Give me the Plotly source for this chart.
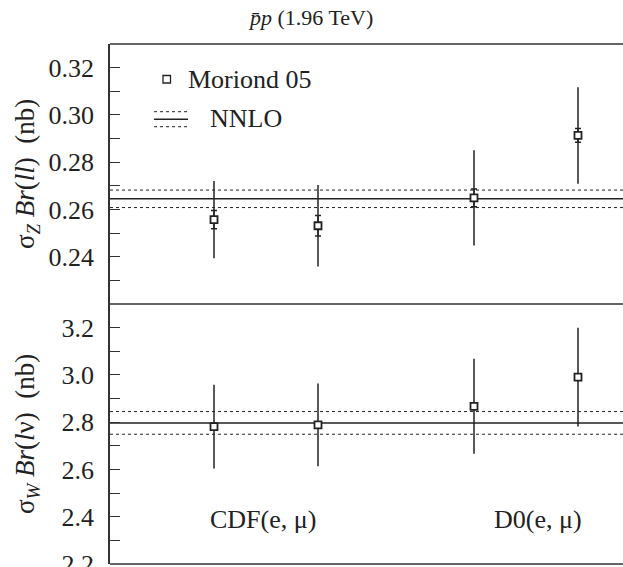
import plotly.graph_objects as go
from plotly.subplots import make_subplots

# ---- data ----
x_pos = [1.0, 2.0, 3.5, 4.5]
group_labels = ["CDF(e, μ)", "D0(e, μ)"]
group_label_x = [1.47, 4.12]

z_val = [0.2557, 0.2531, 0.2649, 0.2913]
z_stat = [0.0039, 0.0043, 0.0038, 0.0029]
z_tot = [0.0163, 0.0172, 0.0202, 0.0204]

w_val = [2.781, 2.789, 2.867, 2.991]
w_tot = [0.177, 0.175, 0.201, 0.209]

nnlo_z = 0.2645
nnlo_z_err = 0.0037
nnlo_w = 2.797
nnlo_w_err = 0.048

z_ticks = [0.24, 0.26, 0.28, 0.30, 0.32]
w_ticks = [2.2, 2.4, 2.6, 2.8, 3.0, 3.2]

FONT = "Liberation Serif, Times New Roman, serif"
INK = "#222222"

W, H = 623, 567
# plot area in page coords: left 110, top 44, bottom 564
L = 110
T = 44
B = H - 564
R = 0
PW = W - L - R
PH = H - T - B


def px(xp):
    return (xp - L) / PW


def py(yp):
    return (H - B - yp) / PH


fig = make_subplots(rows=2, cols=1, shared_xaxes=True, vertical_spacing=0)

# total errors (no caps)
fig.add_trace(go.Scatter(x=x_pos, y=z_val, mode="markers",
                         marker=dict(size=0.1, color=INK),
                         error_y=dict(type="data", array=z_tot, width=0, thickness=1.5, color=INK),
                         showlegend=False, hoverinfo="skip"), row=1, col=1)
# stat errors (small caps)
fig.add_trace(go.Scatter(x=x_pos, y=z_val, mode="markers",
                         marker=dict(symbol="square", size=7, color="white",
                                     line=dict(color=INK, width=1.8)),
                         error_y=dict(type="data", array=z_stat, width=3, thickness=1.5, color=INK),
                         showlegend=False), row=1, col=1)

fig.add_trace(go.Scatter(x=x_pos, y=w_val, mode="markers",
                         marker=dict(symbol="square", size=7, color="white",
                                     line=dict(color=INK, width=1.8)),
                         error_y=dict(type="data", array=w_tot, width=0, thickness=1.5, color=INK),
                         showlegend=False), row=2, col=1)

# NNLO lines
for yref, c, e in [("y", nnlo_z, nnlo_z_err), ("y2", nnlo_w, nnlo_w_err)]:
    fig.add_shape(type="line", xref="paper", yref=yref, x0=0, x1=1, y0=c, y1=c,
                  line=dict(color=INK, width=1.5), layer="below")
    for v in (c - e, c + e):
        fig.add_shape(type="line", xref="paper", yref=yref, x0=0, x1=1, y0=v, y1=v,
                      line=dict(color=INK, width=1, dash="dot"), layer="below")

# frame lines
for yy in (0, 0.5, 1):
    fig.add_shape(type="line", xref="paper", yref="paper", x0=0, x1=1, y0=yy, y1=yy,
                  line=dict(color="#333333", width=1.5))

# legend (manual)
fig.add_shape(type="rect", xref="paper", yref="paper",
              x0=px(163), x1=px(170.5), y0=py(83), y1=py(75.5),
              line=dict(color=INK, width=1.3), fillcolor="white")
fig.add_annotation(x=px(186), y=py(79), xref="paper", yref="paper", text="Moriond 05",
                   showarrow=False, xanchor="left", yanchor="middle",
                   font=dict(family=FONT, size=26, color=INK))
fig.add_shape(type="line", xref="paper", yref="paper", x0=px(154), x1=px(188),
              y0=py(119.3), y1=py(119.3), line=dict(color=INK, width=1.5))
for yy in (111.7, 126.7):
    fig.add_shape(type="line", xref="paper", yref="paper", x0=px(154), x1=px(188),
                  y0=py(yy), y1=py(yy), line=dict(color=INK, width=1, dash="dot"))
fig.add_annotation(x=px(208), y=py(118), xref="paper", yref="paper", text="NNLO",
                   showarrow=False, xanchor="left", yanchor="middle",
                   font=dict(family=FONT, size=26, color=INK))

# group labels
for lab, gx in zip(group_labels, group_label_x):
    fig.add_annotation(x=gx, y=2.39, xref="x2", yref="y2", text=lab, showarrow=False,
                       xanchor="center", yanchor="middle",
                       font=dict(family=FONT, size=26, color=INK))

# title
fig.add_annotation(x=px(310), y=py(18), xref="paper", yref="paper",
                   text="<i>p̄p</i> (1.96 TeV)", showarrow=False,
                   xanchor="center", yanchor="middle",
                   font=dict(family=FONT, size=22, color=INK))

# y axis titles
fig.add_annotation(x=px(27), y=py(174), xref="paper", yref="paper", textangle=-90,
                   text="σ<sub><i>Z</i></sub> <i>Br</i>(<i>ll</i>)  (nb)", showarrow=False,
                   xanchor="center", yanchor="middle",
                   font=dict(family=FONT, size=27, color=INK))
fig.add_annotation(x=px(27), y=py(434), xref="paper", yref="paper", textangle=-90,
                   text="σ<sub><i>W</i></sub> <i>Br</i>(<i>l</i>ν)  (nb)", showarrow=False,
                   xanchor="center", yanchor="middle",
                   font=dict(family=FONT, size=27, color=INK))

axis_common = dict(showline=True, linecolor="#333333", linewidth=1.5, ticks="inside",
                   ticklen=10, tickwidth=1.2, tickcolor="#333333", showgrid=False,
                   zeroline=False, tickfont=dict(family=FONT, size=26, color=INK),
                   ticklabelstandoff=9, automargin=False, ticklabeloverflow="allow")
fig.update_yaxes(range=[0.22, 0.33], tickvals=z_ticks,
                 ticktext=[f"{v:.2f}" for v in z_ticks],
                 minor=dict(dtick=0.01, tick0=0.21, ticks="inside", ticklen=10,
                            tickcolor="#333333", tickwidth=1.2),
                 row=1, col=1, **axis_common)
fig.update_yaxes(range=[2.2, 3.3], tickvals=w_ticks,
                 ticktext=[f"{v:.1f}" for v in w_ticks],
                 minor=dict(dtick=0.1, tick0=2.1, ticks="inside", ticklen=10,
                            tickcolor="#333333", tickwidth=1.2),
                 row=2, col=1, **axis_common)
fig.update_xaxes(range=[0, PW / 104.0], showticklabels=False, ticks="", showgrid=False,
                 zeroline=False, showline=False, automargin=False)

fig.update_layout(width=W, height=H, margin=dict(l=L, r=R, t=T, b=B),
                  plot_bgcolor="white", paper_bgcolor="white", showlegend=False,
                  font=dict(family=FONT))

fig.write_html("out.html", config={"displayModeBar": False},
               post_script="document.body.style.margin='0';"
                           "document.body.style.overflow='hidden';")
